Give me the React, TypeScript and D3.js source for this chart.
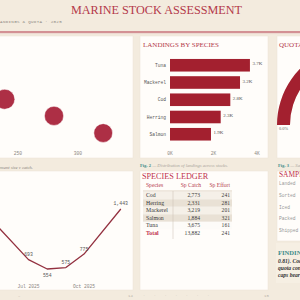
import * as d3 from "d3";

const W = 300;
const H = 300;

const BG = "#f3ebde";
const PANEL = "#fffdfa";
const CRIMSON = "#a3202f";
const BUBBLE = "#ad2f45";
const ROSE = "#b3394a";
const TEAL = "#3d8c8a";
const INK = "#3a3a3a";
const MUTED = "#8a8580";
const MONO = "'Liberation Mono', 'DejaVu Sans Mono', monospace";
const SERIF = "'Liberation Serif', 'DejaVu Serif', serif";

// species ledger
const species = ["Cod", "Herring", "Mackerel", "Salmon", "Tuna"];
const speciesCatch = [2773, 2331, 3219, 1884, 3675];
const speciesEffort = [241, 281, 201, 321, 161];

// shipment size v catch
const shipmentSize = [239, 280, 321];
const shipmentCatch = [49, 39.5, 29.7];
const shipmentLoad = [42, 38.5, 37];

// monthly landings
const landingMonths = ["2025-05-01", "2025-07-01", "2025-08-01", "2025-09-01", "2025-10-01", "2025-12-01"];
const landingValues = [1278, 693, 554, 575, 775, 1443];

const quotaUptake = 0.78;
const chainSteps = ["Landed", "Sorted", "Iced", "Packed", "Shipped"];
const findingLines = ["0.81). Cod landings track", "quota consumption; effort", "caps bear on catch rates."];

const panels = [
  { x: -10, y: 36, w: 143, h: 122 },
  { x: 140, y: 36, w: 128, h: 122 },
  { x: 277, y: 36, w: 40, h: 122 },
  { x: -10, y: 171, w: 143, h: 119 },
  { x: 140, y: 171, w: 128, h: 119 },
  { x: 277, y: 171, w: 40, h: 70 },
];

function Bubbles() {
  const x = d3.scaleLinear().domain([200, 350]).range([-42, 138]);
  const y = d3.scaleLinear().domain([20, 80]).range([150, 45]);
  const r = d3.scaleSqrt().domain([0, 42]).range([0, 10]);
  const ticks = x.ticks(3).filter((t) => x(t) > 4 && x(t) < 130);
  return (
    <g>
      {shipmentSize.map((s, i) => (
        <circle key={i} cx={x(s)} cy={y(shipmentCatch[i])} r={r(shipmentLoad[i])} fill={BUBBLE} stroke="#fff" strokeWidth={0.5} />
      ))}
      {ticks.map((t) => (
        <text key={t} x={x(t)} y={155} textAnchor="middle" fontFamily={MONO} fontSize={4.6} fill={MUTED}>
          {t}
        </text>
      ))}
    </g>
  );
}

function SpeciesBars() {
  const order = d3.range(species.length).sort((a, b) => speciesCatch[b] - speciesCatch[a]);
  const x = d3.scaleLinear().domain([0, 4000]).range([170, 257]);
  const y = d3
    .scaleBand<number>()
    .domain(order)
    .range([54.3, 145.2])
    .paddingInner(0.27)
    .paddingOuter(0.27);
  const fmt = (v: number) => d3.format(".1f")(v / 1000) + "K";
  return (
    <g>
      <text x={143} y={46.5} fontFamily={SERIF} fontSize={7} fill={ROSE}>
        LANDINGS BY SPECIES
      </text>
      {order.map((i) => (
        <g key={species[i]}>
          <rect x={x(0)} y={y(i)} width={x(speciesCatch[i]) - x(0)} height={y.bandwidth()} fill={CRIMSON} />
          <text x={166} y={y(i)! + y.bandwidth() / 2 + 1.6} textAnchor="end" fontFamily={MONO} fontSize={4.6} fill="#555">
            {species[i]}
          </text>
          <text x={x(speciesCatch[i]) + 2.5} y={y(i)! + y.bandwidth() / 2} fontFamily={SERIF} fontSize={5} fill="#555">
            {fmt(speciesCatch[i])}
          </text>
        </g>
      ))}
      {x.ticks(2).map((t) => (
        <text key={t} x={x(t)} y={155} textAnchor="middle" fontFamily={MONO} fontSize={4.6} fill={MUTED}>
          {t / 1000 + "K"}
        </text>
      ))}
    </g>
  );
}

function QuotaGauge() {
  const cx = 357;
  const cy = 125;
  const arc = d3.arc().innerRadius(67).outerRadius(80);
  const track = arc({ startAngle: -Math.PI / 2, endAngle: Math.PI / 2 } as d3.DefaultArcObject);
  const fill = arc({
    startAngle: -Math.PI / 2,
    endAngle: -Math.PI / 2 + Math.PI * quotaUptake,
  } as d3.DefaultArcObject);
  return (
    <g>
      <text x={279} y={46.5} fontFamily={SERIF} fontSize={7} fill={ROSE}>
        QUOTA UPTAKE
      </text>
      <g transform={`translate(${cx},${cy})`}>
        <path d={track ?? ""} fill="#ece5dc" />
        <path d={fill ?? ""} fill={CRIMSON} />
      </g>
      <text x={279} y={130} fontFamily={SERIF} fontSize={4.4} fill="#666">
        0.0%
      </text>
    </g>
  );
}

function LandingsLine() {
  const parse = d3.timeParse("%Y-%m-%d");
  const dates = landingMonths.map((d) => parse(d)!);
  const x = d3.scaleTime().domain([dates[0], dates[dates.length - 1]]).range([-8.3, 120.8]);
  const y = d3.scaleLinear().domain([400, 1600]).range([279.4, 198.4]);
  const line = d3
    .line<number>()
    .x((i) => x(dates[i]))
    .y((i) => y(landingValues[i]));
  const minIdx = landingValues.indexOf(d3.min(landingValues)!);
  const ticks = x.ticks(d3.timeMonth.every(3)!);
  return (
    <g>
      <path d={line(d3.range(dates.length)) ?? ""} fill="none" stroke="#93303f" strokeWidth={1.3} strokeLinejoin="round" />
      {dates.map((d, i) => (
        <text
          key={i}
          x={x(d)}
          y={i === minIdx ? y(landingValues[i]) + 8 : y(landingValues[i]) - 3.5}
          textAnchor="middle"
          fontFamily={MONO}
          fontSize={4.8}
          fill="#555"
        >
          {d3.format(",")(landingValues[i])}
        </text>
      ))}
      {ticks.map((t) => (
        <text key={+t} x={x(t)} y={287.5} textAnchor="middle" fontFamily={MONO} fontSize={4.6} fill={MUTED}>
          {d3.timeFormat("%b %Y")(t)}
        </text>
      ))}
    </g>
  );
}

function Ledger() {
  const rowY = d3.scaleLinear().domain([0, 1]).range([197, 204.5]);
  const total = d3.sum(speciesCatch);
  const meanEffort = d3.mean(speciesEffort)!;
  const shades = ["#f5f0e8", "#e9e1d5", "#f5f0e8", "#e9e1d5", "#fdfbf8", "#fffdfa"];
  const rows = species.map((s, i) => ({ name: s, c: speciesCatch[i], e: speciesEffort[i] }));
  rows.push({ name: "Total", c: total, e: meanEffort });
  return (
    <g fontFamily={SERIF}>
      <text x={142} y={178.5} fontSize={8.2} fill="#c0304a">
        SPECIES LEDGER
      </text>
      <text x={146} y={186.5} fontSize={5.6} fill={ROSE}>Species</text>
      <text x={201} y={186.5} fontSize={5.6} fill={ROSE} textAnchor="end">Sp Catch</text>
      <text x={230} y={186.5} fontSize={5.6} fill={ROSE} textAnchor="end">Sp Effort</text>
      <rect x={143} y={190} width={89} height={2.5} fill="#efe8de" />
      {rows.map((r, i) => {
        const isTotal = r.name === "Total";
        return (
          <g key={r.name}>
            <rect x={143} y={rowY(i) - 5.2} width={89} height={7.5} fill={shades[i]} />
            <text x={146} y={rowY(i)} fontSize={5.8} fill={isTotal ? "#c0304a" : INK} fontWeight={isTotal ? 700 : 400}>
              {r.name}
            </text>
            <text x={200} y={rowY(i)} fontSize={5.6} fill={INK} textAnchor="end">
              {d3.format(",")(r.c)}
            </text>
            <text x={230} y={rowY(i)} fontSize={5.6} fill={INK} textAnchor="end">
              {d3.format(",")(Math.round(r.e))}
            </text>
          </g>
        );
      })}
      <line x1={173} x2={173} y1={191} y2={239} stroke="#c9beb0" strokeWidth={0.5} />
    </g>
  );
}

export default function App() {
  return (
    <svg
      width={W}
      height={H}
      viewBox={`0 0 ${W} ${H}`}
      style={{ position: "absolute", left: 0, top: 0, display: "block", background: BG }}
    >
      <rect width={W} height={H} fill={BG} />
      <text x={156.5} y={14} textAnchor="middle" fontFamily={SERIF} fontSize={12.2} fill={ROSE}>
        MARINE STOCK ASSESSMENT
      </text>
      <text x={62} y={22.5} textAnchor="end" fontFamily={MONO} fontSize={4.2} fill={MUTED} letterSpacing={0.3}>
        FISHERIES · LANDINGS &amp; QUOTA · 2025
      </text>
      <line x1={0} x2={W} y1={32} y2={32} stroke={ROSE} strokeWidth={1.1} />
      <line x1={0} x2={W} y1={33.6} y2={33.6} stroke="#e9c9c5" strokeWidth={0.6} />

      {panels.map((p, i) => (
        <rect key={i} x={p.x} y={p.y} width={p.w} height={p.h} fill={PANEL} stroke="#ece3d6" strokeWidth={0.5} />
      ))}

      <Bubbles />
      <SpeciesBars />
      <QuotaGauge />
      <LandingsLine />
      <Ledger />

      {/* captions */}
      <text x={33} y={168.5} textAnchor="end" fontFamily={SERIF} fontStyle="italic" fontSize={4.6} fill={MUTED}>
        Fig. 1 — Shipment size v catch.
      </text>
      <text x={140} y={166.5} fontFamily={SERIF} fontSize={4.6}>
        <tspan fill={TEAL} fontWeight={700}>Fig. 2</tspan>
        <tspan fill="#a8a29a" fontStyle="italic"> — Distribution of landings across stocks.</tspan>
      </text>
      <text x={278} y={166.5} fontFamily={SERIF} fontSize={4.6}>
        <tspan fill={TEAL} fontWeight={700}>Fig. 3</tspan>
        <tspan fill="#a8a29a" fontStyle="italic"> — Sample handling chain.</tspan>
      </text>

      {/* sample chain */}
      <text x={279} y={176.5} fontFamily={SERIF} fontSize={7.4} fill="#c0304a">
        SAMPLE CHAIN
      </text>
      {chainSteps.map((s, i) => (
        <text key={s} x={279} y={185 + i * 11.8} fontFamily={MONO} fontSize={4.6} fill="#999">
          {s}
        </text>
      ))}

      {/* findings */}
      <rect x={276} y={243} width={30} height={40} fill="#f6efe3" />
      <text x={278} y={255} fontFamily={SERIF} fontSize={6.6} fontWeight={700} fill={TEAL}>
        FINDINGS
      </text>
      {findingLines.map((l, i) => (
        <text key={i} x={278} y={263 + i * 7} fontFamily={SERIF} fontStyle="italic" fontWeight={700} fontSize={5.6} fill="#333">
          {l}
        </text>
      ))}

      {/* footers */}
      <text x={18} y={297} fontFamily={MONO} fontSize={4} fill="#b9b2a8">–</text>
      <text x={128} y={297} fontFamily={MONO} fontSize={4} fill="#b9b2a8">14</text>
      <text x={143} y={297} fontFamily={MONO} fontSize={3.6} fill="#c9c2b8" letterSpacing={3.2}>
        · · · · · · ·
      </text>
      <text x={264} y={297} fontFamily={MONO} fontSize={4} fill="#b9b2a8">15</text>
    </svg>
  );
}
